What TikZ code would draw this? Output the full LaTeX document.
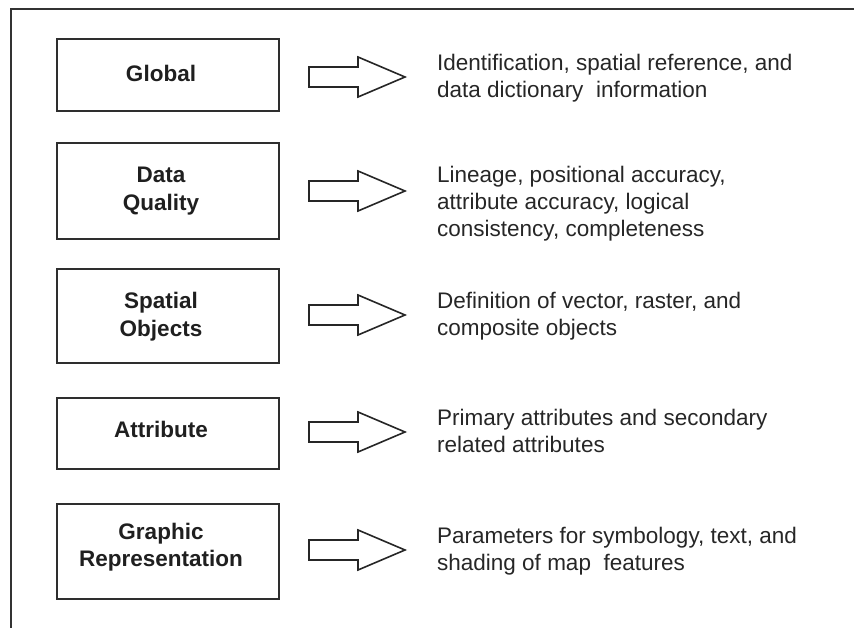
\documentclass[tikz,border=0pt]{standalone}
\usepackage{fontspec}
\setmainfont{Liberation Sans}
\begin{document}
\begin{tikzpicture}[x=1pt,y=-1pt,
  frame/.style={draw=black!80,line width=2pt},
  catbox/.style={draw=black!82,line width=2pt,minimum width=222pt,inner sep=0pt},
  catlabel/.style={anchor=base,align=center,inner sep=0pt,text=black!88,
    font=\fontsize{22.5}{27.5}\selectfont\bfseries},
  desc/.style={anchor=base west,align=left,inner sep=0pt,text=black!85,
    font=\fontsize{22.5}{27}\selectfont},
  blockarrow/.style={draw=black!85,line width=1.6pt,line join=miter,fill=white}]
\useasboundingbox (0,0) rectangle (854,628);

% open outer frame (top and left sides)
\draw[frame] (855,9) -- (11,9) -- (11,629);

% category boxes
\node[catbox,minimum height=72pt] (global) at (168,75) {};
\node[catbox,minimum height=96pt] (quality) at (168,191) {};
\node[catbox,minimum height=94pt] (spatial) at (168,316) {};
\node[catbox,minimum height=71pt] (attr) at (168,433.5) {};
\node[catbox,minimum height=95pt] (graphic) at (168,551.5) {};

% box captions (base anchor sits on the last line)
\node[catlabel] (globalT) at (161,82) {Global};
\node[catlabel] (qualityT) at (161,210.5) {Data\\Quality};
\node[catlabel] (spatialT) at (161,336) {Spatial\\Objects};
\node[catlabel] (attrT) at (161,437) {Attribute};
\node[catlabel] (graphicT) at (161,566.5) {Graphic\\Representation};

% block arrows
\foreach \n/\yy in {a1/77,a2/191,a3/315,a4/432,a5/550}{
  \coordinate (\n) at (309,\yy);
  \draw[blockarrow] (\n) ++(0,-10) -- ++(49,0) -- ++(0,-10) -- ++(47,20)
    -- ++(-47,20) -- ++(0,-10) -- ++(-49,0) -- cycle;
}

% descriptions (base anchor sits on the last line)
\node[desc] (d1) at (437,97.5) {Identification, spatial reference, and\\data dictionary\ \ information};
\node[desc] (d2) at (437,237) {Lineage, positional accuracy,\\attribute accuracy, logical\\consistency, completeness};
\node[desc] (d3) at (437,335) {Definition of vector, raster, and\\composite objects};
\node[desc] (d4) at (437,452.5) {Primary attributes and secondary\\related attributes};
\node[desc] (d5) at (437,570) {Parameters for symbology, text, and\\shading of map\ \ features};
\end{tikzpicture}
\end{document}
